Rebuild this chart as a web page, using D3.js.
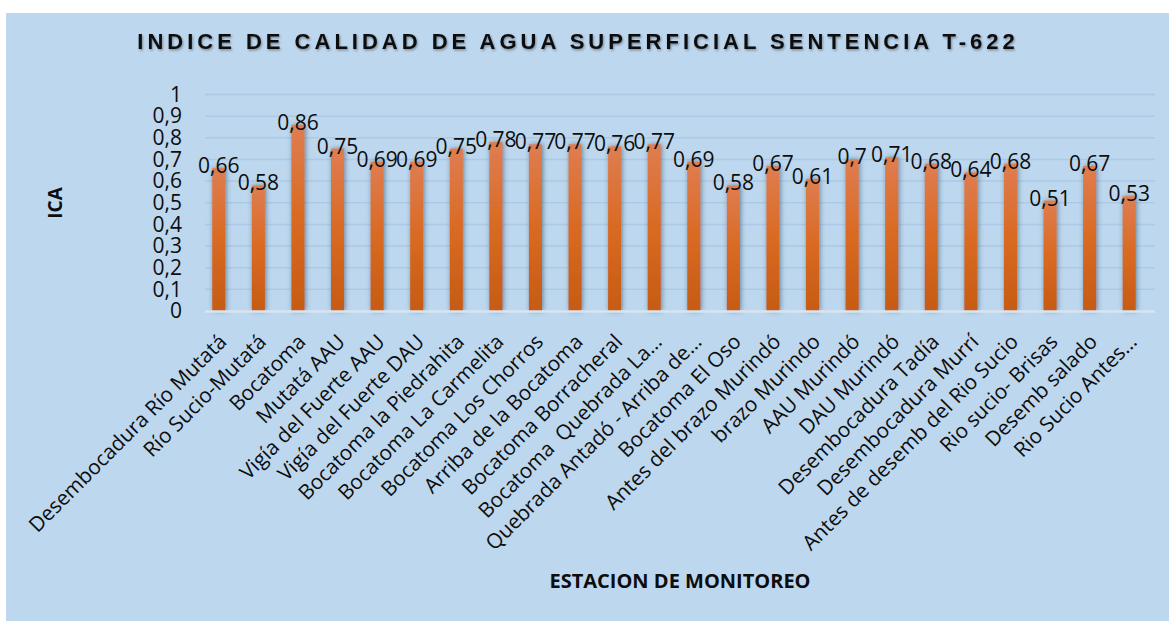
<!DOCTYPE html>
<html lang="es">
<head>
<meta charset="UTF-8">
<title>Indice de calidad de agua</title>
<script src="https://d3js.org/d3.v7.min.js"></script>
<style>
    body { margin: 0; background: #fff; }
    text { font-family: "Open Sans", sans-serif; fill: #0d0d0d; }
    .grid line { stroke: #adc9e5; stroke-width: 1.5; }
    .ylab text { font-size: 21px; }
    .xlab { font-size: 20.7px; white-space: pre; }
    .val { font-size: 21px; text-anchor: middle; }
</style>
</head>
<body>
<svg width="1169" height="621"></svg>
<script>
    // stations (x axis)
    var estaciones = [
        "Desembocadura Río Mutatá", "Río Sucio-Mutatá", "Bocatoma", "Mutatá AAU",
        "Vigía del Fuerte AAU", "Vigía del Fuerte DAU", "Bocatoma la Piedrahita",
        "Bocatoma La Carmelita", "Bocatoma Los Chorros", "Arriba de la Bocatoma",
        "Bocatoma Borracheral", "Bocatoma  Quebrada La…", "Quebrada Antadó - Arriba de…",
        "Bocatoma El Oso", "Antes del brazo Murindó", "brazo Murindo", "AAU Murindó",
        "DAU Murindó", "Desembocadura Tadía", "Desembocadura Murrí",
        "Antes de desemb del Rio Sucio", "Rio sucio- Brisas", "Desemb salado", "Rio Sucio Antes…"
    ];
    var ica = [0.66, 0.58, 0.86, 0.75, 0.69, 0.69, 0.75, 0.78, 0.77, 0.77, 0.76, 0.77,
        0.69, 0.58, 0.67, 0.61, 0.7, 0.71, 0.68, 0.64, 0.68, 0.51, 0.67, 0.53];
    var yTicks = [0, 0.1, 0.2, 0.3, 0.4, 0.5, 0.6, 0.7, 0.8, 0.9, 1];
    var yTickLabels = ["0", "0,1", "0,2", "0,3", "0,4", "0,5", "0,6", "0,7", "0,8", "0,9", "1"];

    var svg = d3.select("svg");
    var plotLeft = 199, plotRight = 1149, plotTop = 94.5, plotBottom = 311;

    var defs = svg.append("defs");
    var grad = defs.append("linearGradient").attr("id", "barGrad")
        .attr("x1", 0).attr("y1", 0).attr("x2", 0).attr("y2", 1);
    grad.append("stop").attr("offset", "0%").attr("stop-color", "#df7d51");
    grad.append("stop").attr("offset", "50%").attr("stop-color", "#d96a22");
    grad.append("stop").attr("offset", "100%").attr("stop-color", "#c65b14");
    var shadow = defs.append("filter").attr("id", "shadow")
        .attr("x", "-100%").attr("y", "-10%").attr("width", "300%").attr("height", "120%");
    shadow.append("feDropShadow").attr("dx", 1).attr("dy", 0).attr("stdDeviation", 2.8)
        .attr("flood-color", "#274763").attr("flood-opacity", 0.6);
    var tshadow = defs.append("filter").attr("id", "tshadow");
    tshadow.append("feDropShadow").attr("dx", 1).attr("dy", 1.5).attr("stdDeviation", 1)
        .attr("flood-color", "#000").attr("flood-opacity", 0.35);

    // chart area
    svg.append("rect").attr("x", 6).attr("y", 13).attr("width", 1163).attr("height", 608)
        .attr("fill", "#bdd7ee");

    var x = d3.scaleBand().domain(estaciones).range([plotLeft, plotRight])
        .paddingInner(0.67).paddingOuter(0.335);
    var y = d3.scaleLinear().domain([0, 1]).range([plotBottom, plotTop]);

    // gridlines
    svg.append("g").attr("class", "grid")
        .selectAll("line").data(yTicks.slice(1)).enter().append("line")
        .attr("x1", plotLeft + 6).attr("x2", plotRight + 6)
        .attr("y1", function (d) { return y(d); })
        .attr("y2", function (d) { return y(d); });

    // y axis labels
    svg.append("g").attr("class", "ylab")
        .attr("transform", "translate(" + plotLeft + ",0)")
        .call(d3.axisLeft(y).tickValues(yTicks).tickSize(0).tickPadding(17)
            .tickFormat(function (d, i) { return yTickLabels[i]; }))
        .call(function (g) { g.select(".domain").remove(); })
        .selectAll("text").attr("fill", "#0d0d0d");

    // bars
    svg.append("g").selectAll("rect").data(ica).enter().append("rect")
        .attr("x", function (d, i) { return x(estaciones[i]); })
        .attr("y", function (d) { return y(d); })
        .attr("width", x.bandwidth())
        .attr("height", function (d) { return plotBottom - y(d); })
        .attr("fill", "url(#barGrad)")
        .attr("filter", "url(#shadow)");

    // axis line
    svg.append("line").attr("x1", plotLeft + 6).attr("x2", plotRight + 6)
        .attr("y1", plotBottom + 0.5).attr("y2", plotBottom + 0.5)
        .attr("stroke", "#d9e4ef").attr("stroke-width", 2.5);

    // data labels
    svg.append("g").selectAll("text").data(ica).enter().append("text")
        .attr("class", "val")
        .attr("x", function (d, i) { return x(estaciones[i]) + x.bandwidth() / 2; })
        .attr("y", function (d) { return y(d) + 5; })
        .text(function (d) { return String(d).replace(".", ","); });

    // category labels
    svg.append("g").selectAll("text").data(estaciones).enter().append("text")
        .attr("class", "xlab")
        .attr("text-anchor", "end")
        .attr("transform", function (d) {
            return "translate(" + (x(d) + x.bandwidth() / 2 + 9) + "," + (plotBottom + 32) + ") rotate(-45)";
        })
        .text(function (d) { return d; });

    // titles
    svg.append("text").attr("x", 578).attr("y", 49)
        .attr("text-anchor", "middle")
        .style("font-family", "'Liberation Sans', Arial, sans-serif")
        .style("font-weight", "bold").style("font-size", "22px")
        .style("letter-spacing", "4px")
        .attr("filter", "url(#tshadow)")
        .text("INDICE DE CALIDAD DE AGUA SUPERFICIAL SENTENCIA T-622");

    svg.append("text")
        .attr("transform", "translate(62,203) rotate(-90)")
        .attr("text-anchor", "middle")
        .style("font-weight", "bold").style("font-size", "19px")
        .text("ICA");

    svg.append("text").attr("x", 680).attr("y", 588)
        .attr("text-anchor", "middle")
        .style("font-weight", "bold").style("font-size", "20px")
        .text("ESTACION DE MONITOREO");
</script>
</body>
</html>
